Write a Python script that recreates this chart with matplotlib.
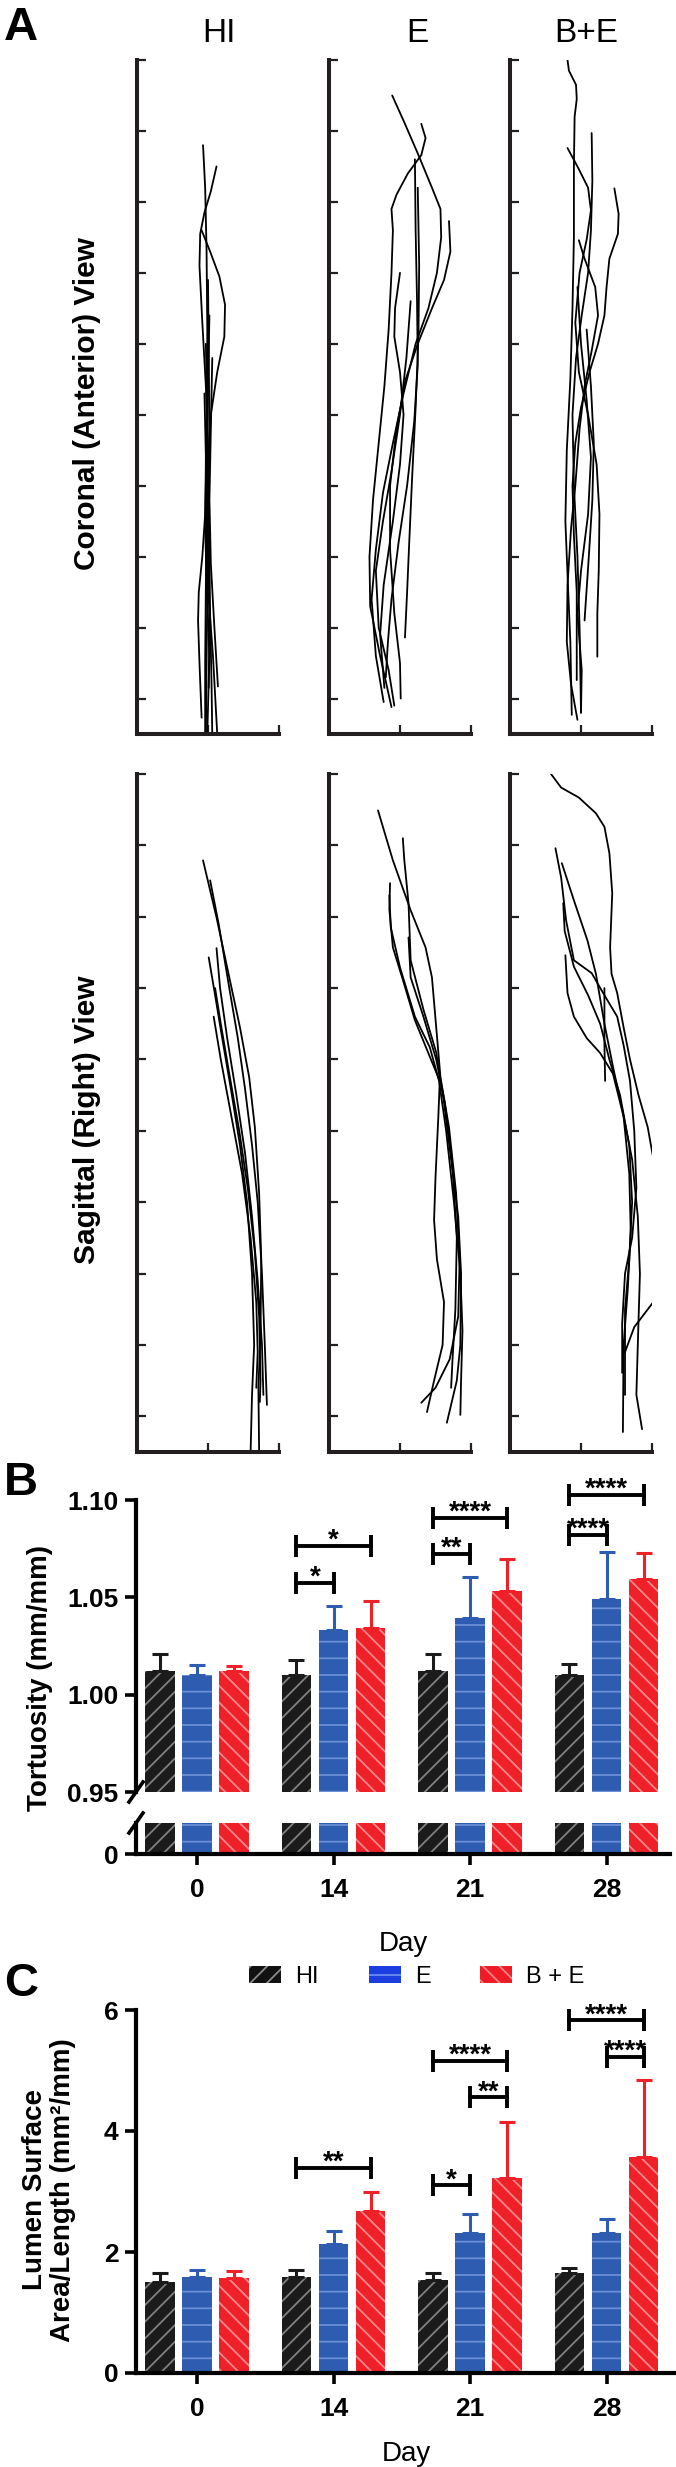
import matplotlib
matplotlib.use("Agg")
import matplotlib.pyplot as plt
from matplotlib.patches import Patch
import numpy as np

plt.rcParams['font.family'] = ['Liberation Sans', 'DejaVu Sans']
plt.rcParams['font.weight'] = 'bold'
plt.rcParams['hatch.linewidth'] = 1.3

# ---------------------------------------------------------------- data
view_labels = ['Coronal (Anterior) View', 'Sagittal (Right) View']
group_names = ['HI', 'E', 'B+E']

coronal_HI = [
    [(0.93, 7.8), (0.96, 7.2), (0.98, 6.3), (0.99, 5.2), (0.99, 4.0), (0.98, 2.8), (0.97, 1.6), (0.96, 0.5), (0.96, -0.5)],
    [(1.12, 7.5), (1.04, 7.15), (0.95, 6.85), (0.89, 6.55), (0.88, 6.1), (0.92, 5.3), (0.97, 4.4), (1.00, 3.4), (1.01, 2.3), (1.03, 1.2), (1.05, 0.2), (1.06, -0.5)],
    [(0.91, 6.6), (1.03, 6.3), (1.16, 5.95), (1.24, 5.55), (1.23, 5.1), (1.13, 4.6), (1.04, 4.0), (1.00, 3.2), (0.99, 2.3), (1.01, 1.4), (1.07, 0.6), (1.13, -0.5)],
    [(1.00, 5.9), (1.01, 4.9), (1.02, 3.8), (1.01, 2.6), (0.99, 1.5), (0.98, 0.5), (0.97, -0.5)],
    [(1.02, 5.4), (1.00, 4.4), (0.98, 3.5), (0.96, 2.6), (0.92, 2.0), (0.87, 1.5), (0.86, 1.1), (0.88, 0.5), (0.91, -0.27)],
    [(0.97, 5.0), (0.99, 4.0), (1.01, 3.0), (1.02, 2.0), (1.02, 1.0), (1.01, 0.15)],
    [(1.06, 4.8), (1.04, 3.8), (1.02, 2.8), (1.04, 1.9), (1.09, 1.0), (1.14, 0.17)],
    [(0.95, 4.3), (0.97, 3.4), (0.96, 2.4), (0.99, 1.4), (1.02, 0.6), (0.99, -0.5)],
]
coronal_E = [
    [(0.89, 8.5), (1.07, 8.1), (1.26, 7.66), (1.45, 7.2), (1.57, 6.9), (1.58, 6.5), (1.52, 6.0), (1.40, 5.5), (1.22, 5.0), (1.05, 4.3), (0.90, 3.6), (0.76, 2.9), (0.66, 2.1), (0.60, 1.4), (0.66, 0.6), (0.77, -0.05)],
    [(1.30, 8.1), (1.36, 7.9), (1.30, 7.66), (1.11, 7.4), (0.95, 7.1), (0.88, 6.9), (0.90, 6.6), (0.88, 6.0), (0.84, 5.2), (0.78, 4.4), (0.70, 3.6), (0.62, 2.8), (0.57, 2.0), (0.58, 1.3), (0.72, 0.6), (0.88, -0.12)],
    [(1.69, 6.73), (1.71, 6.3), (1.62, 5.9), (1.45, 5.5), (1.25, 5.0), (1.08, 4.5), (0.95, 3.8), (0.86, 3.0), (0.86, 2.1), (0.92, 1.2), (1.00, 0.5), (1.01, 0.0)],
    [(1.21, 7.6), (1.22, 6.6), (1.24, 5.6), (1.25, 4.7), (1.20, 3.9), (1.10, 3.0), (0.98, 2.2), (0.88, 1.4), (0.83, 0.8), (0.80, 0.3)],
    [(1.25, 7.2), (1.27, 6.1), (1.26, 5.1), (1.22, 4.1), (1.17, 3.1), (1.13, 2.2), (1.10, 1.5), (1.07, 0.86)],
    [(1.00, 6.0), (0.93, 5.5), (0.92, 5.1), (1.00, 4.6), (1.05, 4.0), (1.00, 3.3), (0.90, 2.5), (0.77, 1.6), (0.72, 0.9), (0.78, 0.15)],
    [(1.15, 5.6), (1.09, 4.8), (1.00, 4.0), (0.88, 3.2), (0.76, 2.5), (0.66, 1.8), (0.70, 1.0), (0.84, 0.4), (0.92, -0.1)],
]
coronal_BE = [
    [(0.81, 9.0), (0.83, 8.85), (0.93, 8.65), (0.94, 8.45), (0.91, 8.2), (0.90, 7.5), (0.90, 6.5), (0.88, 5.5), (0.85, 4.5), (0.80, 3.5), (0.78, 2.5), (0.82, 1.5), (0.85, 0.8), (0.87, -0.23)],
    [(1.15, 7.97), (1.16, 7.3), (1.14, 6.6), (1.10, 6.0), (1.01, 5.4), (0.93, 4.8), (0.88, 4.0), (0.90, 3.0), (0.95, 2.0), (0.98, 1.0), (1.00, -0.2)],
    [(0.81, 7.76), (0.96, 7.48), (1.10, 7.2), (1.14, 6.88), (1.08, 6.47), (0.98, 6.0), (0.92, 5.3), (0.97, 4.6), (1.10, 4.0), (1.22, 3.3), (1.26, 2.6), (1.25, 1.8), (1.23, 1.2), (1.23, 0.59)],
    [(1.47, 7.19), (1.53, 6.83), (1.52, 6.55), (1.40, 6.2), (1.36, 5.8), (1.33, 5.4), (1.24, 5.0), (1.12, 4.6), (1.00, 4.1), (0.92, 3.6), (0.88, 3.0), (0.90, 2.3), (0.94, 1.5), (0.94, 0.26)],
    [(0.97, 6.46), (1.05, 6.2), (1.20, 5.8), (1.24, 5.4), (1.15, 4.9), (1.05, 4.4), (0.98, 3.8), (0.92, 3.0), (0.86, 2.4), (0.81, 1.6), (0.80, 0.8), (0.86, 0.2), (0.95, -0.3)],
    [(1.08, 5.2), (1.14, 4.4), (1.18, 3.6), (1.16, 2.8), (1.11, 2.0), (1.05, 1.1)],
    [(0.95, 5.8), (1.00, 5.0), (1.08, 4.2), (1.14, 3.4), (1.10, 2.6), (1.00, 1.8), (0.95, 1.2), (1.01, 0.4), (1.00, -0.2)],
]
sagittal_HI = [
    [(0.93, 7.79), (1.12, 6.99), (1.30, 6.15), (1.45, 5.45), (1.58, 4.75), (1.66, 4.05), (1.72, 3.13), (1.75, 2.2), (1.74, 1.2), (1.71, 0.4), (1.72, -0.5)],
    [(1.03, 7.51), (1.15, 6.9), (1.30, 6.0), (1.42, 5.3), (1.52, 4.6), (1.62, 3.8), (1.70, 3.0), (1.76, 2.0), (1.80, 1.0), (1.83, 0.16)],
    [(1.01, 6.43), (1.10, 5.9), (1.20, 5.3), (1.32, 4.6), (1.45, 3.8), (1.55, 3.0), (1.62, 2.0), (1.65, 1.0), (1.62, 0.3), (1.60, -0.5)],
    [(1.12, 6.56), (1.17, 6.0), (1.27, 5.3), (1.40, 4.5), (1.52, 3.7), (1.62, 2.8), (1.70, 1.9), (1.76, 1.0), (1.78, 0.3)],
    [(1.10, 6.0), (1.18, 5.5), (1.30, 4.8), (1.44, 4.0), (1.56, 3.2), (1.66, 2.3), (1.72, 1.4), (1.74, 0.5), (1.73, 0.2)],
    [(1.08, 5.6), (1.18, 5.0), (1.33, 4.2), (1.48, 3.4), (1.60, 2.5), (1.68, 1.6), (1.70, 0.9), (1.68, 0.4)],
]
sagittal_E = [
    [(0.69, 8.49), (0.90, 7.79), (1.15, 7.09), (1.36, 6.57), (1.45, 6.15), (1.51, 5.45), (1.57, 4.75), (1.69, 4.05), (1.79, 3.13), (1.84, 2.2), (1.82, 1.4), (1.70, 0.8), (1.50, 0.4), (1.30, 0.19)],
    [(1.04, 8.1), (1.06, 7.8), (1.12, 7.19), (1.15, 6.39), (1.33, 5.7), (1.51, 5.1), (1.62, 4.4), (1.72, 3.6), (1.82, 2.8), (1.86, 2.0), (1.85, 1.0), (1.80, 0.5), (1.66, -0.09)],
    [(0.86, 7.47), (0.85, 7.1), (0.90, 6.57), (1.03, 6.15), (1.21, 5.55), (1.44, 4.99), (1.56, 4.7), (1.54, 4.2), (1.50, 3.35), (1.48, 2.75), (1.52, 2.2), (1.62, 1.6), (1.60, 1.0), (1.48, 0.5), (1.38, 0.06)],
    [(0.85, 7.3), (0.87, 6.85), (1.00, 6.29), (1.21, 5.6), (1.42, 5.17), (1.55, 4.7), (1.65, 4.0), (1.76, 3.0), (1.85, 2.0), (1.88, 1.2), (1.86, 0.5), (1.85, 0.02)],
    [(1.12, 6.71), (1.15, 6.15), (1.33, 5.6), (1.51, 5.0), (1.63, 4.4), (1.74, 3.5), (1.80, 2.5), (1.78, 1.5), (1.74, 0.8), (1.72, 0.4)],
]
sagittal_BE = [
    [(0.57, 9.01), (0.72, 8.81), (0.97, 8.67), (1.21, 8.45), (1.33, 8.26), (1.40, 7.89), (1.44, 7.33), (1.41, 6.57), (1.43, 6.2), (1.51, 5.93), (1.60, 5.45), (1.69, 5.0), (1.81, 4.5), (1.94, 4.05), (2.01, 3.66)],
    [(0.64, 7.96), (0.72, 7.55), (0.79, 6.95), (0.90, 6.39), (1.15, 6.21), (1.33, 5.9), (1.51, 5.6), (1.60, 5.2), (1.69, 4.7), (1.75, 4.0), (1.78, 3.2), (1.72, 2.5), (1.62, 2.0), (1.58, 1.3), (1.58, 0.61)],
    [(0.73, 7.75), (0.90, 7.23), (1.09, 6.67), (1.21, 6.2), (1.33, 5.5), (1.45, 4.9), (1.58, 4.3), (1.72, 3.6), (1.80, 2.8), (1.83, 2.0), (1.80, 1.0), (1.78, 0.3), (1.86, -0.18)],
    [(0.75, 7.19), (0.77, 6.8), (0.90, 6.3), (1.10, 5.9), (1.27, 5.5), (1.40, 5.0), (1.55, 4.5), (1.68, 3.8), (1.72, 3.0), (1.68, 2.2), (1.62, 1.5), (1.62, 0.3)],
    [(0.78, 6.46), (0.81, 5.93), (0.90, 5.6), (1.08, 5.3), (1.27, 5.09), (1.45, 4.8), (1.60, 4.2), (1.68, 3.4), (1.70, 2.6), (1.66, 1.8), (1.60, 1.0), (1.59, -0.22)],
    [(1.33, 6.0), (1.33, 5.2), (1.34, 4.7)],
    [(1.62, 0.9), (1.75, 1.25), (2.01, 1.59)],
]

days = ['0', '14', '21', '28']
series_names = ['HI', 'E', 'B + E']

tort_HI = [1.012, 1.010, 1.012, 1.010]
tort_E = [1.010, 1.033, 1.0395, 1.049]
tort_BE = [1.012, 1.034, 1.053, 1.0595]
tort_HI_sd = [0.009, 0.008, 0.009, 0.0055]
tort_E_sd = [0.005, 0.0126, 0.021, 0.0245]
tort_BE_sd = [0.0025, 0.014, 0.0167, 0.0133]
tort_ticks = [0.95, 1.00, 1.05, 1.10]
# (day index, from series, to series, bracket height, label)
tort_brackets = [(1, 0, 1, 1.0574, '*'), (1, 0, 2, 1.0764, '*'),
                 (2, 0, 1, 1.0723, '**'), (2, 0, 2, 1.091, '****'),
                 (3, 0, 1, 1.082, '****'), (3, 0, 2, 1.1026, '****')]

lumen_HI = [1.51, 1.58, 1.53, 1.66]
lumen_E = [1.59, 2.14, 2.32, 2.31]
lumen_BE = [1.57, 2.68, 3.23, 3.57]
lumen_HI_sd = [0.15, 0.12, 0.13, 0.07]
lumen_E_sd = [0.12, 0.21, 0.30, 0.24]
lumen_BE_sd = [0.12, 0.31, 0.92, 1.28]
lumen_ticks = [0, 2, 4, 6]
lumen_brackets = [(1, 0, 2, 3.39, '**'), (2, 0, 1, 3.10, '*'),
                  (2, 1, 2, 4.56, '**'), (2, 0, 2, 5.16, '****'),
                  (3, 0, 2, 5.83, '****'), (3, 1, 2, 5.23, '****')]

# ---------------------------------------------------------------- figure
W, H = 676, 2467
fig = plt.figure(figsize=(W / 100, H / 100), dpi=100)


def box(x0, y0, x1, y1):
    return [x0 / W, 1 - y1 / H, (x1 - x0) / W, (y1 - y0) / H]


INK = '#231f20'

# ---------------- panel A
cols = [(137, 279), (329, 471), (510, 652)]
rows = [(60, 734), (774, 1452)]
traces = [[coronal_HI, coronal_E, coronal_BE], [sagittal_HI, sagittal_E, sagittal_BE]]
title_x = [0.58, 0.62, 0.54]
for r, (yt, yb) in enumerate(rows):
    for c, (xl, xr) in enumerate(cols):
        ax = fig.add_axes(box(xl, yt, xr, yb))
        for curve in traces[r][c]:
            arr = np.array(curve)
            ax.plot(arr[:, 0], arr[:, 1], color='black', lw=1.3,
                    solid_joinstyle='round', solid_capstyle='round')
        ax.set_xlim(0, 2)
        ax.set_ylim(-0.5, 9)
        for s in ['top', 'right']:
            ax.spines[s].set_visible(False)
        for s in ['left', 'bottom']:
            ax.spines[s].set_linewidth(2.9)
            ax.spines[s].set_color(INK)
        ax.set_xticks([1, 2])
        ax.set_yticks(range(10))
        ax.tick_params(direction='in', length=6.5, width=1.6, color=INK,
                       labelleft=False, labelbottom=False)
        if r == 0:
            ax.set_title(group_names[c], fontsize=24, fontweight='normal',
                         x=title_x[c], pad=13)
    fig.text(87 / W, 1 - ((yt + yb) / 2 + 7) / H, view_labels[r], rotation=90,
             ha='center', va='center', fontsize=21.5)

# ---------------- bar helpers
xpos = np.arange(len(days))
off = 0.272
bw = 0.215
fills = ['#1b1b1b', '#2d5cb0', '#ee2129']
hatch_cols = ['#808080', '#6b8fd6', '#f6868a']
hatches = ['//', '-', '\\\\']


def draw_bars(ax, means, sds, with_err=True):
    for k in range(3):
        xs = xpos + (k - 1) * off
        ax.bar(xs, means[k], width=bw, color=fills[k], edgecolor=hatch_cols[k],
               linewidth=0, hatch=hatches[k], zorder=2)
        if with_err:
            ax.errorbar(xs, means[k], yerr=[np.zeros(len(xs)), sds[k]], fmt='none',
                        ecolor=fills[k], elinewidth=2.2, capsize=5.5, capthick=2.2,
                        zorder=3)


def draw_brackets(ax, brackets):
    for g, i, j, y, lab in brackets:
        x1 = xpos[g] + (i - 1) * off
        x2 = xpos[g] + (j - 1) * off
        ax.plot([x1, x2], [y, y], color='black', lw=2.8, marker='|', ms=16, mew=2.8,
                clip_on=False, zorder=5)
        ax.annotate(lab, ((x1 + x2) / 2, y), xytext=(0, -1.5), textcoords='offset points',
                    ha='center', va='baseline', fontsize=20, fontweight='bold',
                    annotation_clip=False)


def style_axis(ax):
    for s in ['top', 'right']:
        ax.spines[s].set_visible(False)
    for s in ['left', 'bottom']:
        ax.spines[s].set_linewidth(3.0)
        ax.spines[s].set_color('black')


pitch = 136.5
x_left = -0.447

# ---------------- panel B
axB = fig.add_axes(box(136, 1500, 670, 1792))
axB0 = fig.add_axes(box(136, 1823, 670, 1854))
tort = [tort_HI, tort_E, tort_BE]
tort_sd = [tort_HI_sd, tort_E_sd, tort_BE_sd]
for a in (axB, axB0):
    a.set_xlim(x_left, x_left + 534 / pitch)
    style_axis(a)
draw_bars(axB, tort, tort_sd)
draw_bars(axB0, tort, tort_sd, with_err=False)
axB.set_ylim(tort_ticks[0], tort_ticks[-1])
axB.set_yticks(tort_ticks)
axB.set_yticklabels([f'{t:.2f}' for t in tort_ticks])
axB.spines['bottom'].set_visible(False)
axB.tick_params(axis='x', bottom=False, labelbottom=False)
axB.tick_params(axis='y', direction='out', length=8, width=2.6, labelsize=19, pad=4.5)
axB0.set_ylim(0, 0.3)
axB0.set_yticks([0])
axB0.set_yticklabels(['0'])
axB0.set_xticks(xpos)
axB0.set_xticklabels(days)
axB0.tick_params(axis='both', direction='out', length=8, width=2.6, labelsize=19)
axB0.tick_params(axis='x', pad=9)
axB0.tick_params(axis='y', pad=4.5)
axB0.set_xlabel('Day', fontsize=20, labelpad=21)
draw_brackets(axB, tort_brackets)
# axis-break slashes
axB.plot([-7 / 534, 7 / 534], [-10 / 292, 10 / 292], transform=axB.transAxes,
         color='black', lw=2.6, clip_on=False)
axB0.plot([-7 / 534, 7 / 534], [1 - 10 / 31, 1 + 10 / 31], transform=axB0.transAxes,
          color='black', lw=2.6, clip_on=False)
fig.text(40 / W, 1 - 1678 / H, 'Tortuosity (mm/mm)', rotation=90, ha='center',
         va='center', fontsize=20)

# ---------------- panel C
axC = fig.add_axes(box(136, 2010, 676, 2373))
style_axis(axC)
axC.set_xlim(x_left, x_left + 540 / pitch)
lumen = [lumen_HI, lumen_E, lumen_BE]
lumen_sd = [lumen_HI_sd, lumen_E_sd, lumen_BE_sd]
draw_bars(axC, lumen, lumen_sd)
axC.set_ylim(lumen_ticks[0], lumen_ticks[-1])
axC.set_yticks(lumen_ticks)
axC.set_xticks(xpos)
axC.set_xticklabels(days)
axC.tick_params(axis='both', direction='out', length=8, width=2.6, labelsize=19)
axC.tick_params(axis='x', pad=9)
axC.tick_params(axis='y', pad=4.5)
axC.set_xlabel('Day', fontsize=20, labelpad=15)
draw_brackets(axC, lumen_brackets)
fig.text(49 / W, 1 - 2190 / H, 'Lumen Surface\nArea/Length (mm²/mm)', rotation=90,
         ha='center', va='center', fontsize=20, linespacing=1.1, multialignment='center')

# legend
legend_fill = ['#111111', '#1c3de0', '#ee1c25']
legend_hatch = ['#8a8a8a', '#6f8cf0', '#f77f84']
handles = [Patch(facecolor=legend_fill[k], edgecolor=legend_hatch[k], hatch=hatches[k],
                 linewidth=0) for k in range(3)]
fig.legend(handles, series_names, loc='center', bbox_to_anchor=(417 / W, 1 - 1977 / H),
           ncol=3, frameon=False, prop={'size': 17, 'weight': 'normal'},
           handlelength=1.36, handleheight=0.72, handletextpad=0.6, columnspacing=2.1)

# panel letters
for letter, ytop in [('A', 6), ('B', 1461), ('C', 1962)]:
    fig.text(4 / W, 1 - ytop / H, letter, fontsize=34, ha='left', va='top')

fig.savefig('out.png', dpi=100)
